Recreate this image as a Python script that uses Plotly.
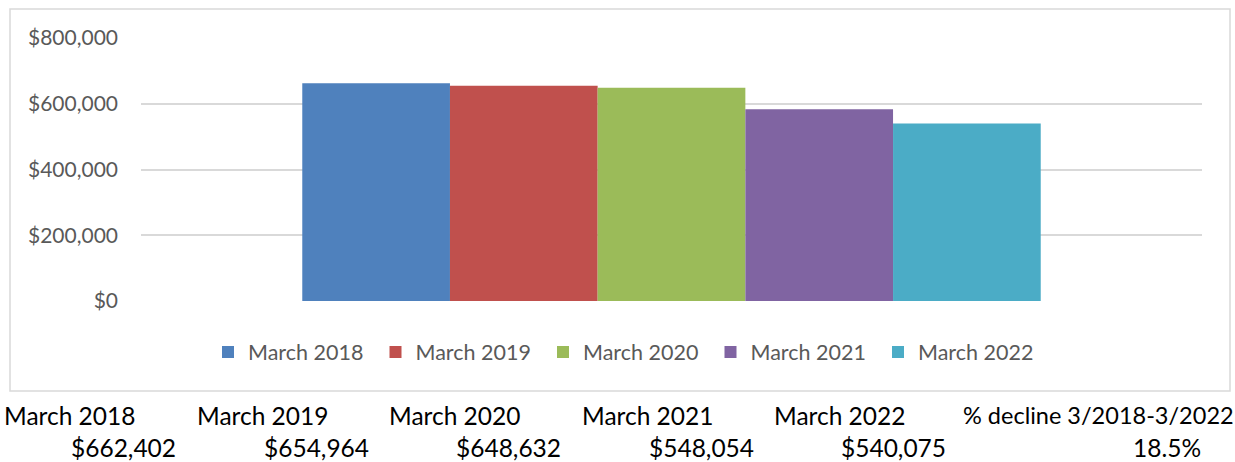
import plotly.graph_objects as go

# ---- data ----
series_names = ["March 2018", "March 2019", "March 2020", "March 2021", "March 2022"]
bar_values = [662402, 654964, 648632, 583000, 540075]   # bar heights as drawn
colors = ["#4F81BD", "#C0504D", "#9BBB59", "#8064A2", "#4BACC6"]
category = ["Total"]
y_tickvals = [0, 200000, 400000, 600000, 800000]
y_ticktext = ["$0", "$200,000", "$400,000", "$600,000", "$800,000"]
table_headers = ["March 2018", "March 2019", "March 2020", "March 2021", "March 2022",
                 "% decline 3/2018-3/2022"]
table_values = ["$662,402", "$654,964", "$648,632", "$548,054", "$540,075", "18.5%"]

# ---- layout geometry (pixels) ----
W, H = 1235, 462
PL, PR, PT, PB = 141, 1202, 38, 301   # plot area edges
pw, ph = PR - PL, PB - PT


def px_x(x):
    return (x - PL) / pw


def px_y(y):
    return (PB - y) / ph


fig = go.Figure()
for name, val, col in zip(series_names, bar_values, colors):
    fig.add_trace(go.Bar(x=category, y=[val], name=name, marker_color=col,
                         marker_line_width=0, hoverinfo="name+y"))

fig.update_layout(
    width=W, height=H,
    margin=dict(l=PL, r=W - PR, t=PT, b=H - PB, pad=0),
    paper_bgcolor="white", plot_bgcolor="white",
    barmode="group", bargap=0.304, bargroupgap=0,
    font=dict(family="Lato", color="#595959"),
    showlegend=True,
    legend=dict(orientation="h", x=px_x(208), xanchor="left", y=px_y(352), yanchor="middle",
                font=dict(size=21.5, color="#595959", family="Lato"),
                entrywidth=122.5, entrywidthmode="pixels", itemwidth=30,
                bgcolor="rgba(0,0,0,0)", traceorder="normal"),
    xaxis=dict(showticklabels=False, showgrid=False, zeroline=False, showline=False,
               fixedrange=True),
    yaxis=dict(range=[0, 800000], tickvals=y_tickvals, ticktext=y_ticktext,
               showgrid=True, gridcolor="#d9d9d9", gridwidth=1.5, zeroline=False,
               showline=False, ticks="", ticklabelstandoff=22,
               tickfont=dict(size=21, color="#595959", family="Lato"), fixedrange=True),
)

# outer chart border
fig.add_shape(type="rect", xref="paper", yref="paper",
              x0=px_x(10), x1=px_x(1230), y0=px_y(391), y1=px_y(9),
              line=dict(color="#d9d9d9", width=1.5), fillcolor="rgba(0,0,0,0)", layer="below")

# table below the chart
col_w = 192.6
for i, (hdr, val) in enumerate(zip(table_headers, table_values)):
    last = i == len(table_headers) - 1
    left = 2 + i * col_w
    if last:
        left -= 4
    right = 1203 if last else left + 176
    fig.add_annotation(xref="paper", yref="paper", x=px_x(left), y=px_y(415),
                       xanchor="left", yanchor="middle", text=hdr, showarrow=False,
                       font=dict(size=23.5 if last else 24.5, color="black", family="Lato"))
    fig.add_annotation(xref="paper", yref="paper", x=px_x(right), y=px_y(447),
                       xanchor="right", yanchor="middle", text=val, showarrow=False,
                       font=dict(size=24.5, color="black", family="Lato"))

fig.write_html("out.html", config={"displayModeBar": False},
               post_script="document.body.style.margin='0';document.body.style.padding='0';")
